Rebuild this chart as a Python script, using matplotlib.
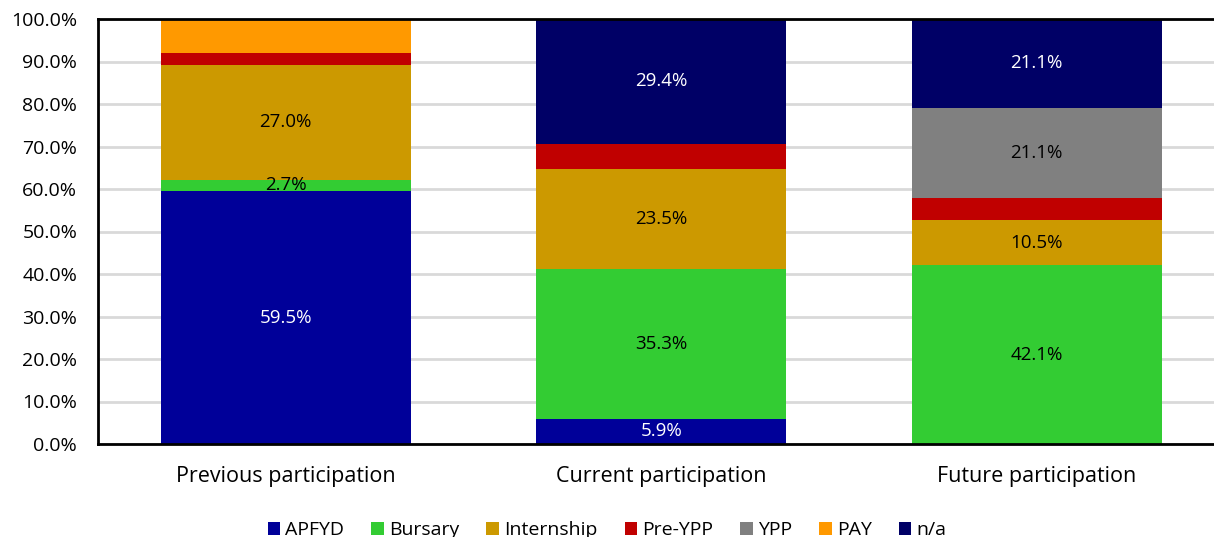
import numpy as np
import matplotlib.pyplot as plt

# Data (percent of respondents)
categories = ['Previous participation', 'Current participation', 'Future participation']
series = ['APFYD', 'Bursary', 'Internship', 'Pre-YPP', 'YPP', 'PAY', 'n/a']
apfyd = [59.5, 5.9, 0.0]
bursary = [2.7, 35.3, 42.1]
internship = [27.0, 23.5, 10.5]
pre_ypp = [2.7, 5.9, 5.3]
ypp = [0.0, 0.0, 21.1]
pay = [8.1, 0.0, 0.0]
na = [0.0, 29.4, 21.1]
yticks = [0, 10, 20, 30, 40, 50, 60, 70, 80, 90, 100]

colors = ['#000099', '#33CC33', '#CC9900', '#C00000', '#808080', '#FF9900', '#000066']
label_colors = ['white', 'black', 'black', None, 'black', None, 'white']

plt.rcParams['font.family'] = ['Open Sans', 'DejaVu Sans']

fig = plt.figure(figsize=(12.14, 5.37), dpi=100)
ax = fig.add_axes([98 / 1214, 93 / 537, 1126.5 / 1214, 425 / 537])

values = [apfyd, bursary, internship, pre_ypp, ypp, pay, na]
x = np.arange(len(categories))
bottom = np.zeros(len(categories))
for name, vals, col, lc in zip(series, values, colors, label_colors):
    vals = np.array(vals)
    ax.bar(x, vals, 0.666, bottom=bottom, color=col, label=name, zorder=2)
    if lc is not None:
        for xi, v, b in zip(x, vals, bottom):
            if v > 0:
                ax.text(xi, b + v / 2, f'{v:.1f}%', ha='center', va='center',
                        color=lc, fontsize=13.5, zorder=3)
    bottom += vals

ax.set_xlim(-0.5, 2.5)
ax.set_ylim(0, 100)
ax.set_yticks(yticks)
ax.set_yticklabels([f'{t:.1f}%' for t in yticks], fontsize=14)
ax.set_xticks(x)
ax.set_xticklabels(categories, fontsize=15.5)
ax.tick_params(axis='both', length=0)
ax.tick_params(axis='x', pad=16)
ax.tick_params(axis='y', pad=15)
ax.yaxis.grid(True, color='#d9d9d9', linewidth=2, zorder=0)
ax.set_axisbelow(True)
for s in ['left', 'bottom', 'top']:
    ax.spines[s].set_linewidth(2)
    ax.spines[s].set_color('black')
ax.spines['right'].set_visible(False)

fig.legend(loc='center', bbox_to_anchor=(0.5, 7 / 537), ncol=7, frameon=False,
           fontsize=14, handlelength=0.65, handleheight=0.65, handletextpad=0.25,
           columnspacing=1.4)

fig.savefig('out.png', dpi=100)
